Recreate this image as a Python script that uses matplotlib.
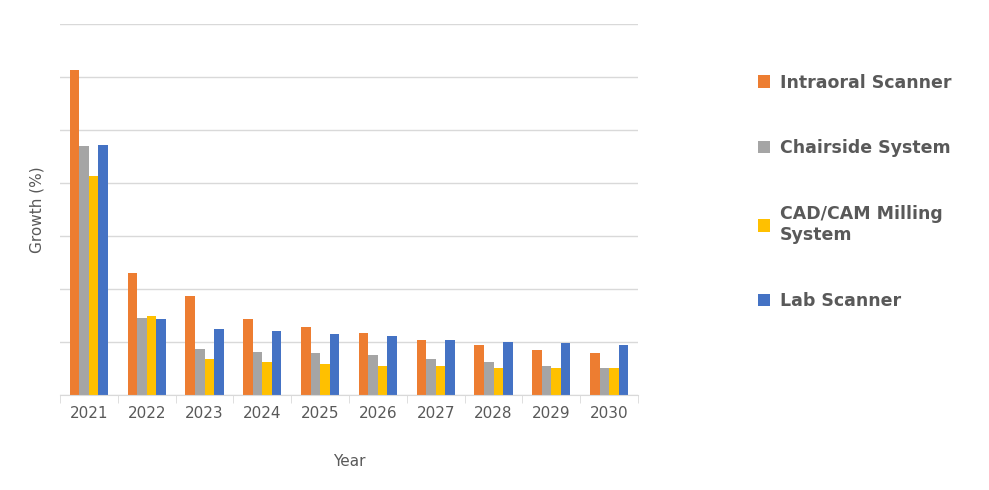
import matplotlib
matplotlib.use("Agg")
import matplotlib.pyplot as plt
import numpy as np

years = ["2021","2022","2023","2024","2025","2026","2027","2028","2029","2030"]
intraoral = [6.13,2.30,1.87,1.43,1.28,1.17,1.04,0.94,0.85,0.79]
chairside = [4.70,1.45,0.87,0.81,0.79,0.75,0.68,0.62,0.55,0.51]
cadcam = [4.13,1.49,0.68,0.62,0.58,0.55,0.55,0.51,0.51,0.51]
lab = [4.72,1.43,1.25,1.21,1.15,1.11,1.04,1.00,0.98,0.94]
series = [("Intraoral Scanner", intraoral, "#ED7D31"),
          ("Chairside System", chairside, "#A5A5A5"),
          ("CAD/CAM Milling\nSystem", cadcam, "#FFC000"),
          ("Lab Scanner", lab, "#4472C4")]

fig = plt.figure(figsize=(9.89,4.90), dpi=100)
ax = fig.add_axes([60/989, 1-395/490, 578/989, 371/490])
x = np.arange(len(years))
w = 0.165
for i,(name,vals,c) in enumerate(series):
    ax.bar(x+(i-1.5)*w, vals, w, color=c, label=name)
ax.set_xlim(-0.5, len(years)-0.5)
ax.set_ylim(0, 7)
ax.set_yticks(np.arange(0,8,1))
ax.set_yticklabels([])
ax.tick_params(axis='y', length=0)
ax.grid(axis='y', color='#D9D9D9', linewidth=1)
ax.set_axisbelow(True)
for s in ["top","right","left"]:
    ax.spines[s].set_visible(False)
ax.spines["bottom"].set_color("#D9D9D9")
ax.set_xticks(x)
ax.set_xticklabels(years, fontsize=11, color="#595959")
ax.set_xticks(np.arange(-0.5,len(years),1), minor=True)
ax.tick_params(axis='x', which='major', length=0, pad=8)
ax.tick_params(axis='x', which='minor', length=6, color='#D9D9D9')
ax.set_xlabel("Year", fontsize=11, color="#595959", labelpad=24)
ax.set_ylabel("Growth (%)", fontsize=11, color="#595959", labelpad=8)
leg = fig.legend(loc="upper left", bbox_to_anchor=(742/989, 1-58/490), frameon=False,
                 fontsize=12.5, labelspacing=2.75, handlelength=0.7, handleheight=0.7,
                 handletextpad=0.6)
for t in leg.get_texts():
    t.set_color("#595959"); t.set_fontweight("bold")
fig.savefig("out.png", dpi=100)
